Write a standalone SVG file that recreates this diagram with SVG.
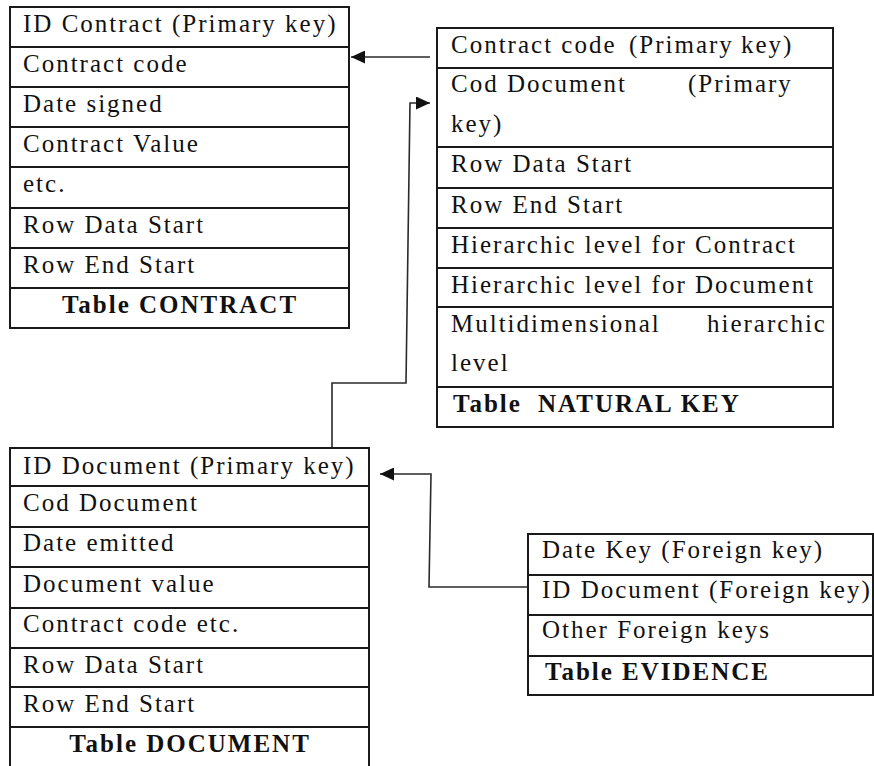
<svg xmlns="http://www.w3.org/2000/svg" width="874" height="766" viewBox="0 0 874 766">
<style>
  .box { fill: #fff; stroke: #1a1a1a; stroke-width: 2; }
  .sep { stroke: #1a1a1a; stroke-width: 2; }
  .t { font-size: 25px; letter-spacing: 2px; fill: #111; }
  .b { font-weight: bold; }
  .c { text-anchor: middle; }
  .conn { fill: none; stroke: #2a2a2a; stroke-width: 1.6; }
</style>
<defs>
  <marker id="arrow" markerUnits="userSpaceOnUse" markerWidth="15" markerHeight="13" refX="14" refY="6.5" orient="auto">
    <path d="M0,0 L14,6.5 L0,13 z" fill="#111"/>
  </marker>
</defs>
<rect width="874" height="766" fill="#fff"/>

<g id="connectors">
  <polyline class="conn" points="430,57 351,57" marker-end="url(#arrow)"/>
  <polyline class="conn" points="332,448 332,383 406,383 410,103 430,103" marker-end="url(#arrow)"/>
  <polyline class="conn" points="528,587 429,587 431,474 380,474" marker-end="url(#arrow)"/>
</g>

<g id="table-contract" font-family="Liberation Serif, Times New Roman, serif">
  <rect class="box" x="10" y="7" width="339" height="321"/>
  <line class="sep" x1="10" y1="47" x2="349" y2="47"/>
  <line class="sep" x1="10" y1="87" x2="349" y2="87"/>
  <line class="sep" x1="10" y1="127" x2="349" y2="127"/>
  <line class="sep" x1="10" y1="167" x2="349" y2="167"/>
  <line class="sep" x1="10" y1="208" x2="349" y2="208"/>
  <line class="sep" x1="10" y1="248" x2="349" y2="248"/>
  <line class="sep" x1="10" y1="288" x2="349" y2="288"/>
  <text class="t" x="23" y="32">ID Contract (Primary key)</text>
  <text class="t" x="23" y="72">Contract code</text>
  <text class="t" x="23" y="112">Date signed</text>
  <text class="t" x="23" y="152">Contract Value</text>
  <text class="t" x="23" y="192">etc.</text>
  <text class="t" x="23" y="233">Row Data Start</text>
  <text class="t" x="23" y="273">Row End Start</text>
  <text class="t b c" x="180" y="313">Table CONTRACT</text>
</g>

<g id="table-natural-key" font-family="Liberation Serif, Times New Roman, serif">
  <rect class="box" x="437" y="28" width="396" height="399"/>
  <line class="sep" x1="437" y1="68" x2="833" y2="68"/>
  <line class="sep" x1="437" y1="147" x2="833" y2="147"/>
  <line class="sep" x1="437" y1="188" x2="833" y2="188"/>
  <line class="sep" x1="437" y1="228" x2="833" y2="228"/>
  <line class="sep" x1="437" y1="268" x2="833" y2="268"/>
  <line class="sep" x1="437" y1="307" x2="833" y2="307"/>
  <line class="sep" x1="437" y1="387" x2="833" y2="387"/>
  <text class="t" y="53"><tspan x="451">Contract code</tspan><tspan x="629">(Primary</tspan><tspan x="741">key)</tspan></text>
  <text class="t" y="92"><tspan x="451">Cod Document</tspan><tspan x="688">(Primary</tspan></text>
  <text class="t" x="451" y="132">key)</text>
  <text class="t" x="451" y="172">Row Data Start</text>
  <text class="t" x="451" y="213">Row End Start</text>
  <text class="t" x="451" y="253">Hierarchic level for Contract</text>
  <text class="t" x="451" y="293">Hierarchic level for Document</text>
  <text class="t" y="332"><tspan x="451">Multidimensional</tspan><tspan x="707">hierarchic</tspan></text>
  <text class="t" x="451" y="371">level</text>
  <text class="t b" y="412"><tspan x="453">Table</tspan><tspan x="538">NATURAL KEY</tspan></text>
</g>

<g id="table-document" font-family="Liberation Serif, Times New Roman, serif">
  <rect class="box" x="10" y="448" width="359" height="330"/>
  <line class="sep" x1="10" y1="486" x2="369" y2="486"/>
  <line class="sep" x1="10" y1="527" x2="369" y2="527"/>
  <line class="sep" x1="10" y1="567" x2="369" y2="567"/>
  <line class="sep" x1="10" y1="608" x2="369" y2="608"/>
  <line class="sep" x1="10" y1="648" x2="369" y2="648"/>
  <line class="sep" x1="10" y1="687" x2="369" y2="687"/>
  <line class="sep" x1="10" y1="727" x2="369" y2="727"/>
  <text class="t" x="23" y="474">ID Document (Primary key)</text>
  <text class="t" x="23" y="511">Cod Document</text>
  <text class="t" x="23" y="551">Date emitted</text>
  <text class="t" x="23" y="592">Document value</text>
  <text class="t" x="23" y="632">Contract code etc.</text>
  <text class="t" x="23" y="673">Row Data Start</text>
  <text class="t" x="23" y="712">Row End Start</text>
  <text class="t b c" x="190" y="752">Table DOCUMENT</text>
</g>

<g id="table-evidence" font-family="Liberation Serif, Times New Roman, serif">
  <rect class="box" x="528" y="534" width="345" height="161"/>
  <line class="sep" x1="528" y1="575" x2="873" y2="575"/>
  <line class="sep" x1="528" y1="615" x2="873" y2="615"/>
  <line class="sep" x1="528" y1="656" x2="873" y2="656"/>
  <text class="t" x="542" y="558">Date Key (Foreign key)</text>
  <text class="t" x="542" y="598">ID Document (Foreign key)</text>
  <text class="t" x="542" y="638">Other Foreign keys</text>
  <text class="t b" x="545" y="680">Table EVIDENCE</text>
</g>
</svg>
